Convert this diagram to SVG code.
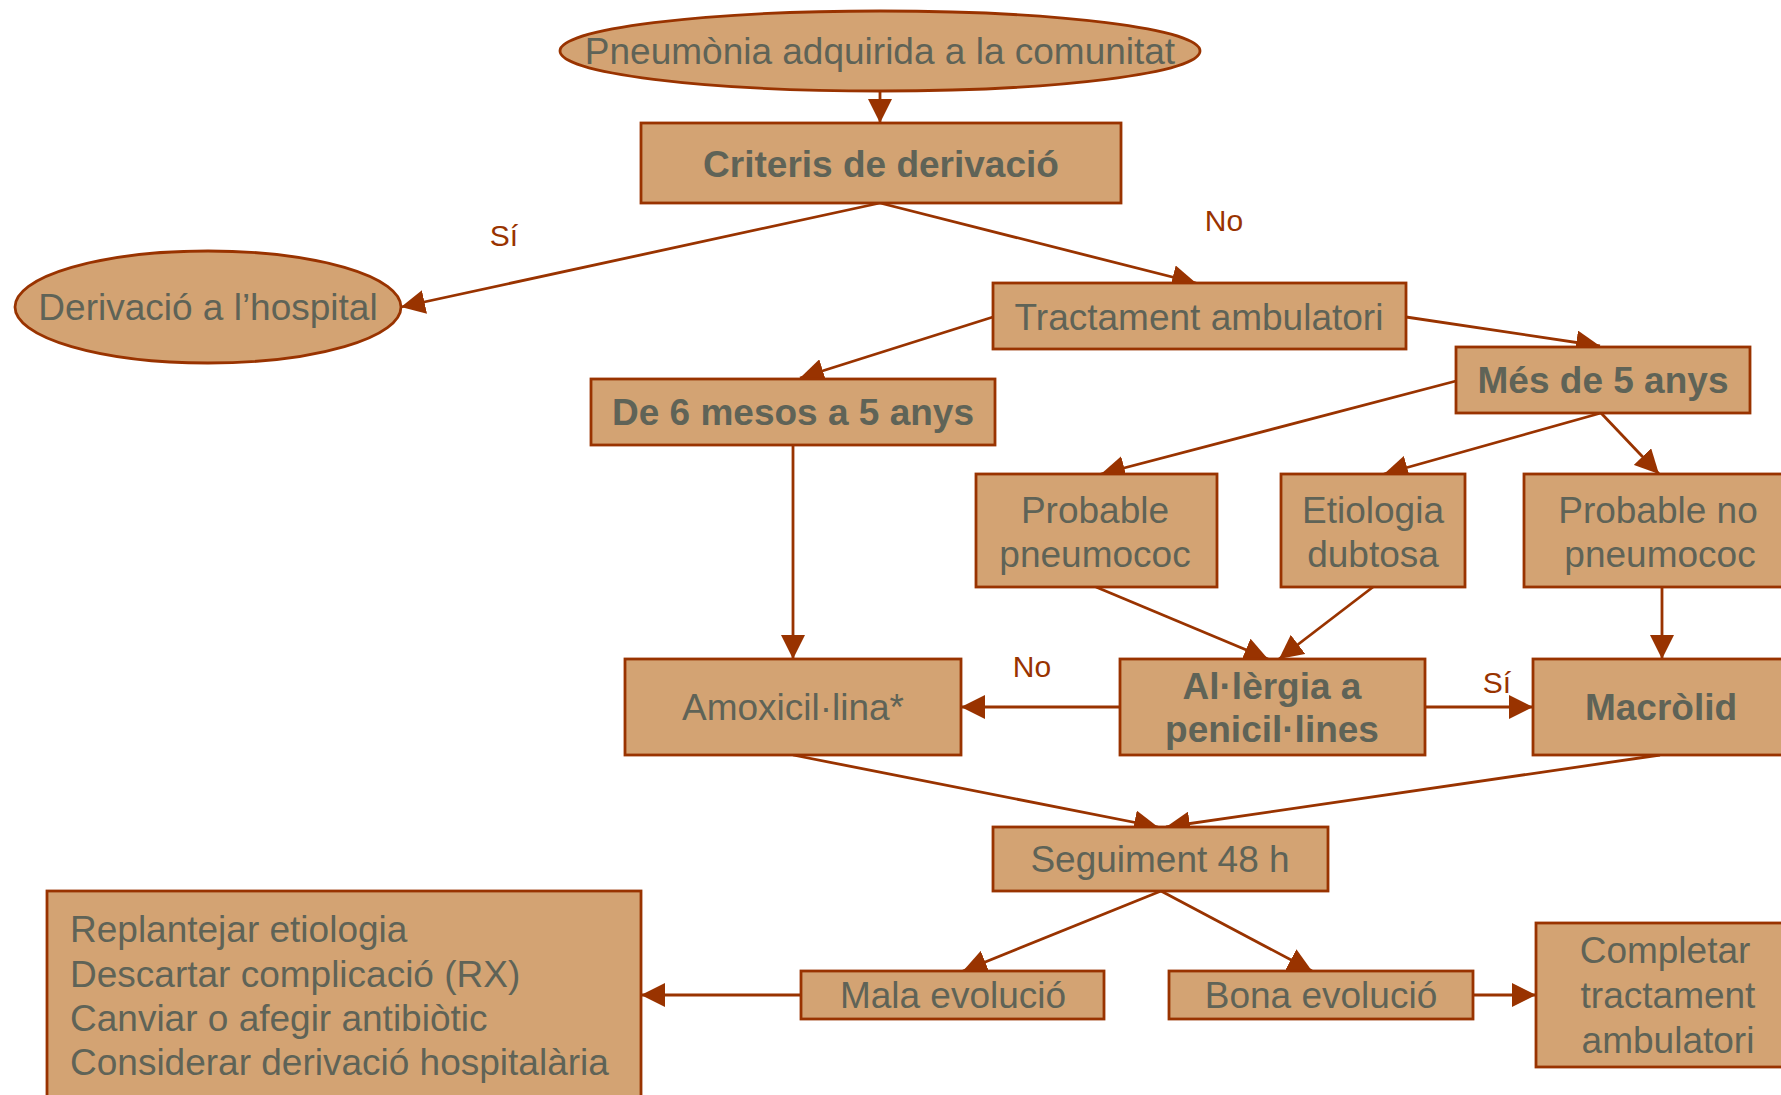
<svg xmlns="http://www.w3.org/2000/svg" width="1781" height="1095" viewBox="0 0 1781 1095">
<defs>
<style>
.n{fill:#D3A373;stroke:#993300;stroke-width:2.8}
.t{font-family:"Liberation Sans",Arial,sans-serif;font-size:37px;fill:#5F6357;text-anchor:middle}
.b{font-weight:bold;font-size:37px}
.l{text-anchor:start}
.lab{font-family:"Liberation Sans",Arial,sans-serif;font-size:30px;fill:#993300;text-anchor:middle}
.c{fill:none;stroke:#993300;stroke-width:2.8;marker-end:url(#ah)}
</style>
<marker id="ah" viewBox="0 0 22 22" refX="22" refY="11" markerWidth="24" markerHeight="24" markerUnits="userSpaceOnUse" orient="auto">
<path d="M0,0 L22,11 L0,22 z" fill="#993300"/>
</marker>
</defs>
<rect width="1781" height="1095" fill="#fff"/>
<g id="connectors">
<line class="c" x1="880" y1="91" x2="880" y2="123"/>
<line class="c" x1="880" y1="203" x2="401" y2="307"/>
<line class="c" x1="880" y1="203" x2="1196" y2="283"/>
<line class="c" x1="993" y1="317" x2="800" y2="378"/>
<line class="c" x1="1406" y1="317" x2="1600" y2="346"/>
<line class="c" x1="1456" y1="381" x2="1101" y2="474"/>
<line class="c" x1="1601" y1="413" x2="1384" y2="474"/>
<line class="c" x1="1601" y1="413" x2="1659" y2="474"/>
<line class="c" x1="1096" y1="587" x2="1268" y2="659"/>
<line class="c" x1="1373" y1="587" x2="1279" y2="659"/>
<line class="c" x1="1662" y1="587" x2="1662" y2="659"/>
<line class="c" x1="793" y1="445" x2="793" y2="659"/>
<line class="c" x1="1120" y1="707" x2="961" y2="707"/>
<line class="c" x1="1425" y1="707" x2="1533" y2="707"/>
<line class="c" x1="793" y1="755" x2="1158" y2="827"/>
<line class="c" x1="1660" y1="755" x2="1166" y2="827"/>
<line class="c" x1="1161" y1="891" x2="963" y2="971"/>
<line class="c" x1="1161" y1="891" x2="1312" y2="971"/>
<line class="c" x1="801" y1="995" x2="641" y2="995"/>
<line class="c" x1="1473" y1="995" x2="1536" y2="995"/>
<text class="lab" x="504" y="246">Sí</text>
<text class="lab" x="1224" y="231">No</text>
<text class="lab" x="1032" y="677">No</text>
<text class="lab" x="1497" y="693">Sí</text>
</g>
<g id="n_pneumonia">
<ellipse class="n" cx="880" cy="51" rx="320" ry="40"/>
<text class="t" x="880" y="64">Pneumònia adquirida a la comunitat</text>
</g>
<g id="n_criteris">
<rect class="n" x="641" y="123" width="480" height="80"/>
<text class="t b" x="881" y="177">Criteris de derivació</text>
</g>
<g id="n_hospital">
<ellipse class="n" cx="208" cy="307" rx="193" ry="56"/>
<text class="t" x="208" y="320">Derivació a l’hospital</text>
</g>
<g id="n_tractament">
<rect class="n" x="993" y="283" width="413" height="66"/>
<text class="t" x="1199" y="330">Tractament ambulatori</text>
</g>
<g id="n_de6">
<rect class="n" x="591" y="379" width="404" height="66"/>
<text class="t b" x="793" y="425">De 6 mesos a 5 anys</text>
</g>
<g id="n_mes5">
<rect class="n" x="1456" y="347" width="294" height="66"/>
<text class="t b" x="1603" y="393">Més de 5 anys</text>
</g>
<g id="n_probpneumo">
<rect class="n" x="976" y="474" width="241" height="113"/>
<text class="t" x="1095" y="523">Probable</text>
<text class="t" x="1095" y="567">pneumococ</text>
</g>
<g id="n_etiologia">
<rect class="n" x="1281" y="474" width="184" height="113"/>
<text class="t" x="1373" y="523">Etiologia</text>
<text class="t" x="1373" y="567">dubtosa</text>
</g>
<g id="n_probnopneumo">
<rect class="n" x="1524" y="474" width="270" height="113"/>
<text class="t" x="1658" y="523">Probable no</text>
<text class="t" x="1660" y="567">pneumococ</text>
</g>
<g id="n_amox">
<rect class="n" x="625" y="659" width="336" height="96"/>
<text class="t" x="793" y="720">Amoxicil·lina*</text>
</g>
<g id="n_alergia">
<rect class="n" x="1120" y="659" width="305" height="96"/>
<text class="t b" x="1272" y="699">Al·lèrgia a</text>
<text class="t b" x="1272" y="742">penicil·lines</text>
</g>
<g id="n_macrolid">
<rect class="n" x="1533" y="659" width="262" height="96"/>
<text class="t b" x="1661" y="720">Macròlid</text>
</g>
<g id="n_seguiment">
<rect class="n" x="993" y="827" width="335" height="64"/>
<text class="t" x="1160" y="872">Seguiment 48 h</text>
</g>
<g id="n_mala">
<rect class="n" x="801" y="971" width="303" height="48"/>
<text class="t" x="953" y="1008">Mala evolució</text>
</g>
<g id="n_bona">
<rect class="n" x="1169" y="971" width="304" height="48"/>
<text class="t" x="1321" y="1008">Bona evolució</text>
</g>
<g id="n_replantejar">
<rect class="n" x="47" y="891" width="594" height="220"/>
<text class="t l" x="70" y="942">Replantejar etiologia</text>
<text class="t l" x="70" y="987">Descartar complicació (RX)</text>
<text class="t l" x="70" y="1031">Canviar o afegir antibiòtic</text>
<text class="t l" x="70" y="1075">Considerar derivació hospitalària</text>
</g>
<g id="n_completar">
<rect class="n" x="1536" y="923" width="260" height="144"/>
<text class="t" x="1665" y="963">Completar</text>
<text class="t" x="1668" y="1008">tractament</text>
<text class="t" x="1668" y="1053">ambulatori</text>
</g>
</svg>
